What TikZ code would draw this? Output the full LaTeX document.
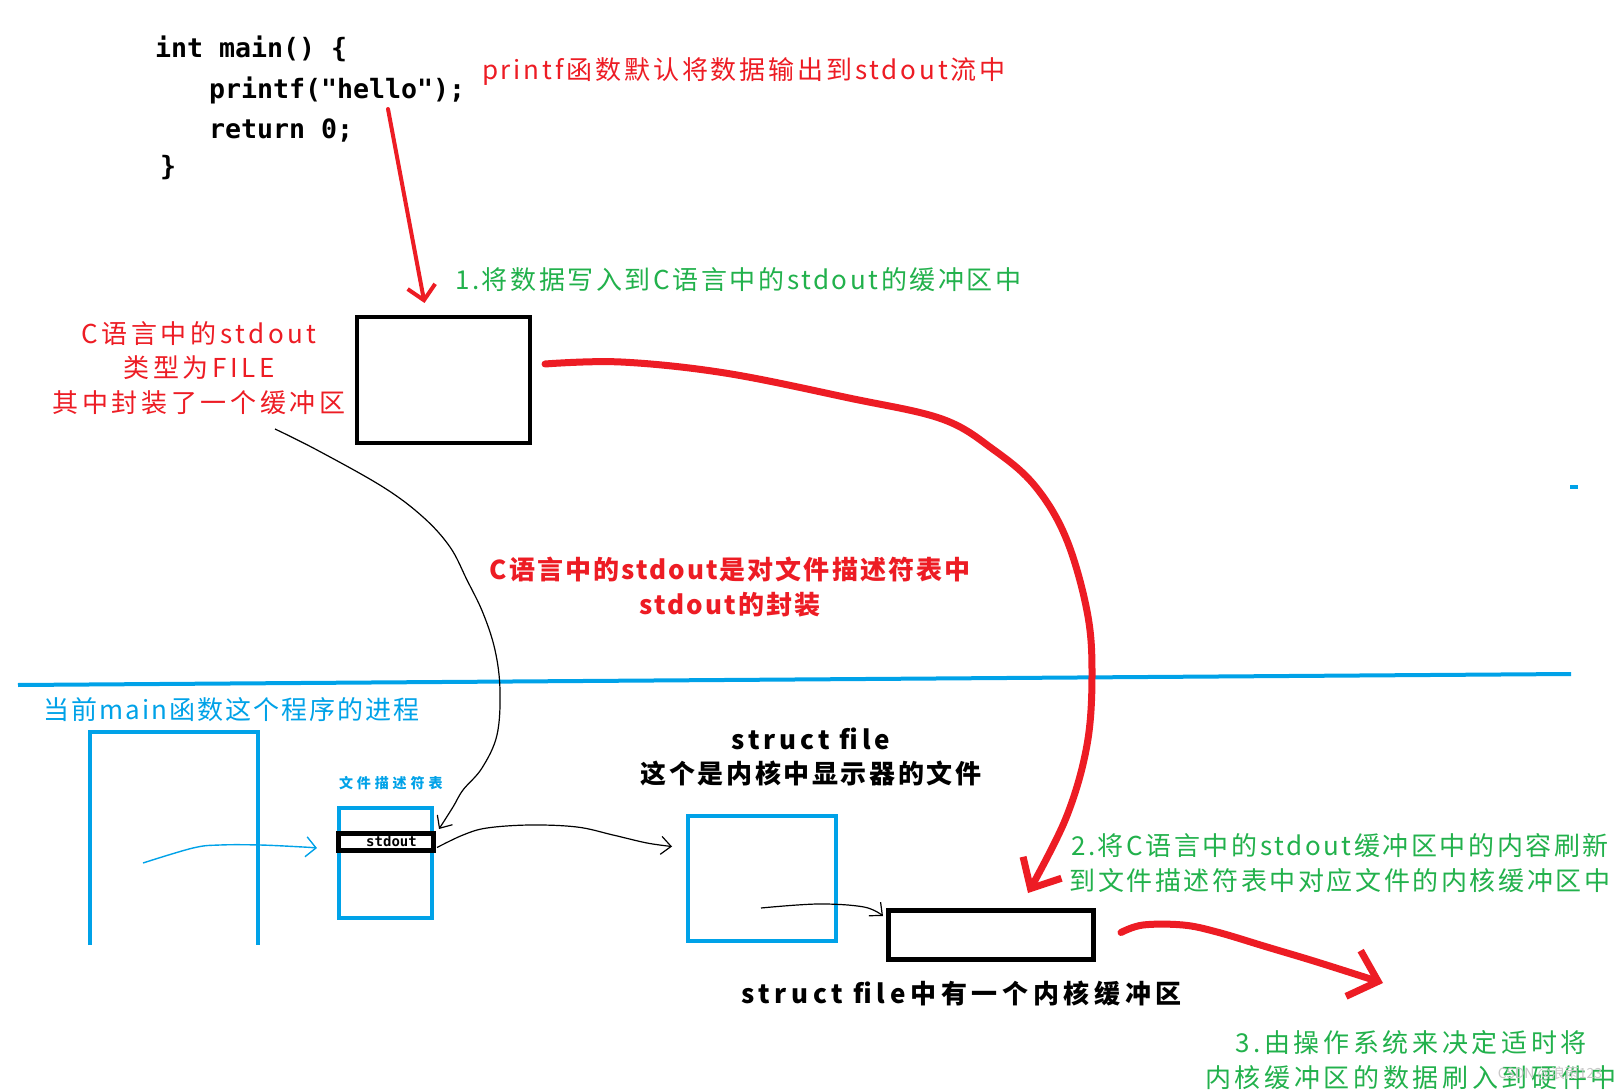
\documentclass[tikz,border=0pt]{standalone}
\usepackage{fontspec}
\setmainfont{Noto Sans CJK SC}
\newfontfamily\codefont{DejaVu Sans Mono}
\usetikzlibrary{arrows.meta,calc}
\definecolor{pred}{RGB}{237,28,36}
\definecolor{pgreen}{RGB}{34,177,76}
\definecolor{pblue}{RGB}{0,162,232}
\tikzset{
  lbl/.style={font=\fontsize{13pt}{17.25pt}\selectfont\addfontfeatures{LetterSpace=#1}, align=center},
  lblb/.style={font=\fontsize{13pt}{17pt}\selectfont\bfseries\addfontfeatures{LetterSpace=#1}, align=center},
  codetxt/.style={font=\codefont\bfseries\fontsize{13.3pt}{16pt}\selectfont, anchor=west},
  blackbox/.style={draw=black, line width=2pt},
  bluebox/.style={draw=pblue, line width=2.3pt},
  redthin/.style={draw=pred, line width=2pt, line cap=round, -{Straight Barb[length=7pt,width=14pt]}},
  redbig/.style={draw=pred, line width=3.5pt, line cap=round, -{Straight Barb[length=12pt,width=22pt]}},
  thinblack/.style={draw=black, line width=0.6pt, -{Straight Barb[length=5pt,width=9pt]}},
  thinblue/.style={draw=pblue, line width=0.7pt, -{Straight Barb[length=5pt,width=10pt]}},
}
\begin{document}
\begin{tikzpicture}[x=0.5pt,y=-0.5pt, every node/.style={inner sep=0pt, outer sep=0pt}]
\fill[white] (0,0) rectangle (1623,1091);
\useasboundingbox (0,0) rectangle (1623,1091);

% separator line and small dash
\draw[pblue, line width=2pt] (18,685) -- (1571,674);
\draw[pblue, line width=2pt] (1570,487) -- (1578,487);

% code
\node[codetxt] (c1) at (155,49) {int main() \{};
\node[codetxt] (c2) at (209,90) {printf("hello");};
\node[codetxt] (c3) at (209,130) {return 0;};
\node[codetxt] (c4) at (160,168) {\}};

% labels
\node[lbl=11, text=pred, anchor=west] (pf) at (482,72) {printf函数默认将数据输出到stdout流中};
\node[lbl=10, text=pgreen, anchor=west] (g1) at (455,280) {1.将数据写入到C语言中的stdout的缓冲区中};
\node[lbl=14, text=pred] (cs) at (199,368) {C语言中的stdout\\类型为FILE\\其中封装了一个缓冲区};
\node[lbl=10, text=pred, font=\fontsize{13pt}{17.25pt}\selectfont\bfseries\addfontfeatures{LetterSpace=8}] (wrap) at (730,587) {C语言中的stdout是对文件描述符表中\\stdout的封装};
\node[lbl=8, text=pblue, anchor=west] (proc) at (43,710) {当前main函数这个程序的进程};
\node[font=\fontsize{7pt}{8pt}\selectfont\bfseries\addfontfeatures{LetterSpace=28}, text=pblue, anchor=west] (fdl) at (339,783) {文件描述符表};
\node[lblb=15] (sf) at (811,757) {struct file\\\addfontfeatures{LetterSpace=10}这个是内核中显示器的文件};
\node[lblb=18, anchor=west] (kf) at (741,993) {struct file中有一个内核缓冲区};
\node[lbl=10, text=pgreen] (g2) at (1340,863) {2.将C语言中的stdout缓冲区中的内容刷新\\到文件描述符表中对应文件的内核缓冲区中};
\node[lbl=14, text=pgreen] (g3) at (1411,1060) {3.由操作系统来决定适时将\\内核缓冲区的数据刷入到硬件中};
\node[font=\fontsize{7pt}{8pt}\selectfont, text=black!22] (wm) at (1550,1074) {CSDN @浪雨123};

% boxes
\node[blackbox, minimum width=86.5pt, minimum height=63pt] (cbuf) at (443.5,380) {};
\draw[pblue, line width=2.3pt] (90,945) -- (90,732) -- (258,732) -- (258,945);
\node[bluebox, minimum width=46.5pt, minimum height=55pt] (fdt) at (385.5,863) {};
\node[draw=black, line width=2.5pt, fill=white, minimum width=47.5pt, minimum height=8.5pt,
      font=\codefont\bfseries\fontsize{7pt}{8pt}\selectfont] (row) at (385.5,841.5) {\hspace*{6pt}stdout};
\node[bluebox, minimum width=74pt, minimum height=62.5pt] (sfile) at (762,878.5) {};
\node[blackbox, line width=2.5pt, minimum width=102.5pt, minimum height=24.5pt] (kbuf) at (990.5,934.5) {};

% connectors
\coordinate (a1s) at (388,109);
\draw[redthin] (a1s) -- ($(cbuf.north)+(-19,-14)$);

\coordinate (a2s) at ($(cbuf.east)+(15,-16)$);
\coordinate (a2e) at ($(kbuf.north)+(37.5,-17)$);
\draw[redbig] plot[smooth, tension=0.6] coordinates {(a2s) (621,362) (725,373) (849,398) (942,419) (994,450) (1035,486) (1066,538) (1087,611) (1092,673) (1087,745) (1066,818) (a2e)};

\coordinate (a3s) at ($(kbuf.east)+(28,-2)$);
\coordinate (a3e) at (1383,983);
\draw[redbig, -{Straight Barb[length=13pt,width=24pt]}] plot[smooth, tension=0.6] coordinates {(a3s) (1143,925) (1183,925) (1217,932) (1267,947) (1317,962) (a3e)};

\coordinate (b1s) at (275,429);
\coordinate (b1e) at ($(row.north east)+(6,-4)$);
\draw[thinblack] plot[smooth, tension=0.6] coordinates {(b1s) (317,450) (383,487) (423,517) (450,547) (467,580) (483,613) (495,650) (500,690) (497,735) (482,768) (463,790) (453,807) (b1e)};

\coordinate (b2s) at ($(row.east)+(4,6)$);
\coordinate (b2e) at ($(sfile.west)+(-16,-32)$);
\draw[thinblack] plot[smooth, tension=0.6] coordinates {(b2s) (463,835) (487,828) (530,825) (577,827) (613,835) (647,843) (b2e)};

\coordinate (b3s) at (761,908);
\coordinate (b3e) at ($(kbuf.west)+(-5,-18.5)$);
\draw[thinblack] plot[smooth, tension=0.6] coordinates {(b3s) (818,904) (864,907) (b3e)};

\coordinate (c5s) at (143,863);
\coordinate (c5e) at ($(fdt.west)+(-22,-15)$);
\draw[thinblue] plot[smooth, tension=0.6] coordinates {(c5s) (193,848) (220,845) (260,845) (303,847) (c5e)};
\end{tikzpicture}
\end{document}
